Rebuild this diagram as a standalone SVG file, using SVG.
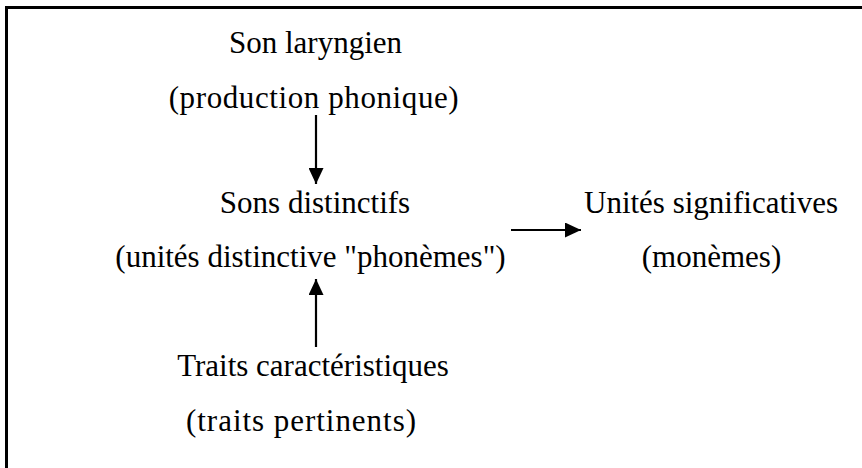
<svg xmlns="http://www.w3.org/2000/svg" width="862" height="468" viewBox="0 0 862 468">
<defs>
<style>
text{font-family:"Liberation Serif","Times New Roman",serif;font-size:31px;fill:#000;text-anchor:middle}
.edge{stroke:#000;stroke-width:2.2;fill:none}
</style>
<marker id="ah" markerUnits="userSpaceOnUse" markerWidth="16" markerHeight="15" refX="16" refY="7.5" orient="auto">
<path d="M0,0 L16,7.5 L0,15 z" fill="#000"/>
</marker>
</defs>
<rect width="862" height="468" fill="#fff"/>
<path d="M6.5,468 V7.5 H862" stroke="#000" stroke-width="3" fill="none"/>
<g id="son-laryngien">
<text x="315.5" y="53">Son laryngien</text>
<text x="313.7" y="108" textLength="290">(production phonique)</text>
</g>
<g id="sons-distinctifs">
<text x="315" y="213">Sons distinctifs</text>
<text x="310.5" y="267">(unités distinctive "phonèmes")</text>
</g>
<g id="traits">
<text x="313" y="376">Traits caractéristiques</text>
<text x="301" y="431" textLength="230">(traits pertinents)</text>
</g>
<g id="unites-significatives">
<text x="711" y="213">Unités significatives</text>
<text x="711.5" y="267">(monèmes)</text>
</g>
<g id="connectors">
<line class="edge" x1="316" y1="115" x2="316" y2="184" marker-end="url(#ah)"/>
<line class="edge" x1="316" y1="347" x2="316" y2="279" marker-end="url(#ah)"/>
<line class="edge" x1="511" y1="230" x2="581" y2="230" marker-end="url(#ah)"/>
</g>
</svg>
